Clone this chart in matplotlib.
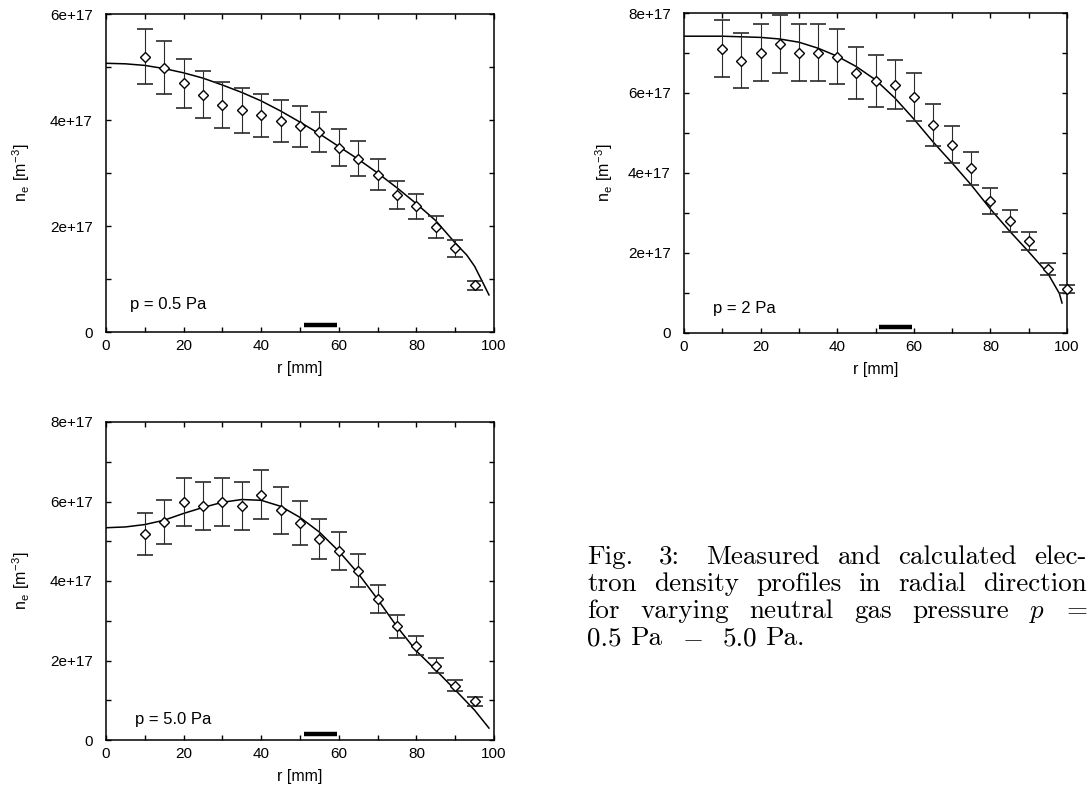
import numpy as np
import matplotlib
matplotlib.use("Agg")
import matplotlib.pyplot as plt
from matplotlib.ticker import MultipleLocator, FuncFormatter

SCALE = 1e17

# ---- panel 1: p = 0.5 Pa ----
r_meas_1 = [10, 15, 20, 25, 30, 35, 40, 45, 50, 55, 60, 65, 70, 75, 80, 85, 90, 95]
ne_meas_1 = [5.19, 4.99, 4.69, 4.48, 4.28, 4.18, 4.09, 3.98, 3.88, 3.78, 3.48, 3.27,
             2.97, 2.58, 2.37, 1.98, 1.58, 0.88]
err_1 = [0.52, 0.50, 0.47, 0.45, 0.43, 0.42, 0.41, 0.40, 0.39, 0.38, 0.35, 0.33,
         0.30, 0.26, 0.24, 0.20, 0.16, 0.09]
r_calc_1 = [0, 5, 10, 15, 20, 25, 30, 35, 40, 45, 50, 55, 60, 65, 70, 75, 80, 85,
            90, 93, 95, 97, 98.7]
ne_calc_1 = [5.07, 5.06, 5.03, 4.97, 4.89, 4.79, 4.66, 4.52, 4.36, 4.17, 3.96, 3.74,
             3.50, 3.26, 3.00, 2.72, 2.42, 2.10, 1.68, 1.45, 1.24, 0.95, 0.70]

# ---- panel 2: p = 2 Pa ----
r_meas_2 = [10, 15, 20, 25, 30, 35, 40, 45, 50, 55, 60, 65, 70, 75, 80, 85, 90, 95, 100]
ne_meas_2 = [7.11, 6.81, 7.01, 7.22, 7.01, 7.01, 6.91, 6.51, 6.30, 6.21, 5.90, 5.20,
             4.71, 4.12, 3.30, 2.80, 2.30, 1.60, 1.10]
err_2 = [0.71, 0.69, 0.71, 0.72, 0.71, 0.71, 0.69, 0.65, 0.64, 0.62, 0.60, 0.52,
         0.47, 0.41, 0.33, 0.28, 0.23, 0.16, 0.11]
r_calc_2 = [0, 10, 20, 25, 30, 35, 40, 45, 50, 55, 60, 65, 70, 75, 80, 85, 90, 95,
            98, 98.7]
ne_calc_2 = [7.42, 7.42, 7.39, 7.35, 7.27, 7.12, 6.92, 6.66, 6.33, 5.88, 5.35, 4.78,
             4.25, 3.70, 3.10, 2.55, 2.03, 1.49, 0.99, 0.75]

# ---- panel 3: p = 5.0 Pa ----
r_meas_3 = [10, 15, 20, 25, 30, 35, 40, 45, 50, 55, 60, 65, 70, 75, 80, 85, 90, 95]
ne_meas_3 = [5.18, 5.48, 5.99, 5.88, 5.98, 5.88, 6.17, 5.78, 5.46, 5.06, 4.76, 4.26,
             3.55, 2.86, 2.37, 1.87, 1.37, 0.97]
err_3 = [0.52, 0.56, 0.60, 0.60, 0.60, 0.60, 0.62, 0.59, 0.56, 0.51, 0.48, 0.42,
         0.36, 0.29, 0.24, 0.19, 0.14, 0.11]
r_calc_3 = [0, 5, 10, 15, 20, 25, 30, 35, 40, 45, 50, 55, 60, 65, 70, 75, 80, 85,
            90, 95, 98.7]
ne_calc_3 = [5.34, 5.36, 5.42, 5.53, 5.70, 5.85, 5.98, 6.05, 6.03, 5.88, 5.60, 5.23,
             4.75, 4.19, 3.54, 2.85, 2.24, 1.76, 1.26, 0.75, 0.30]

# black bar (antenna position) on the r axis
bar_r = [51, 59.5]
bar_ne = [0.13, 0.15, 0.14]

panel_labels = ["p = 0.5 Pa", "p = 2 Pa", "p = 5.0 Pa"]
y_max = [6, 8, 8]

caption_lines = [
    ["Fig.", "3:", "Measured", "and", "calculated", "elec-"],
    ["tron", "density", "profiles", "in", "radial", "direction"],
    ["for", "varying", "neutral", "gas", "pressure", "$p$", "="],
]
caption_last = ["0.5", "Pa", "$-$", "5.0", "Pa."]

plt.rcParams["font.family"] = ["Liberation Sans", "DejaVu Sans"]
plt.rcParams["mathtext.fontset"] = "cm"

W, H = 1089, 790
fig = plt.figure(figsize=(W / 100, H / 100), dpi=100)


def ax_rect(l, t, r, b):
    return [l / W, 1 - b / H, (r - l) / W, (b - t) / H]


rects = [ax_rect(106, 14, 494, 332), ax_rect(684, 13, 1067, 333),
         ax_rect(106, 422, 494, 740)]
meas = [(r_meas_1, ne_meas_1, err_1), (r_meas_2, ne_meas_2, err_2),
        (r_meas_3, ne_meas_3, err_3)]
calc = [(r_calc_1, ne_calc_1), (r_calc_2, ne_calc_2), (r_calc_3, ne_calc_3)]
label_pos = [(0.062, 0.088), (0.076, 0.078), (0.075, 0.066)]
ylabel_x = [-0.19, -0.18, -0.19]


def yfmt(v, pos):
    if abs(v) < 1:
        return "0"
    return "%.0e" % v


for i in range(3):
    ax = fig.add_axes(rects[i])
    r, ne, er = meas[i]
    ne = np.array(ne) * SCALE
    er = np.array(er) * SCALE
    rc, nc = calc[i]
    ax.plot(rc, np.array(nc) * SCALE, color="black", lw=1.1, zorder=2)
    eb = ax.errorbar(r, ne, yerr=er, fmt="none", ecolor="#2a2a2a", elinewidth=0.8,
                     capsize=6, capthick=1.2, zorder=3)
    for art in eb.lines[1]:
        art.set_clip_on(False)
    for art in eb.lines[2]:
        art.set_clip_on(False)
    ax.plot(r, ne, linestyle="none", marker="D", markersize=4.6,
            markerfacecolor="white", markeredgecolor="black", markeredgewidth=1.0,
            zorder=4, clip_on=False)
    ax.plot(bar_r, [bar_ne[i] * SCALE] * 2, color="black", lw=3.2,
            solid_capstyle="butt", zorder=2)
    ax.set_xlim(0, 100)
    ax.set_ylim(0, y_max[i] * SCALE)
    ax.xaxis.set_major_locator(MultipleLocator(20))
    ax.xaxis.set_minor_locator(MultipleLocator(10))
    ax.yaxis.set_major_locator(MultipleLocator(2 * SCALE))
    ax.yaxis.set_minor_locator(MultipleLocator(1 * SCALE))
    ax.yaxis.set_major_formatter(FuncFormatter(yfmt))
    ax.tick_params(which="both", direction="in", top=True, right=True,
                   length=3.5, width=1.0, labelsize=11)
    ax.tick_params(axis="y", which="major", pad=9.5)
    ax.tick_params(axis="x", which="major", pad=5)
    for s in ax.spines.values():
        s.set_linewidth(1.1)
    ax.set_xlabel("r [mm]", fontsize=11.5, labelpad=6)
    ax.set_ylabel(r"n$_\mathregular{e}$ [m$^\mathregular{-3}$]", fontsize=11.5)
    ax.yaxis.set_label_coords(ylabel_x[i], 0.5)
    ax.text(label_pos[i][0], label_pos[i][1], panel_labels[i], transform=ax.transAxes,
            fontsize=12, va="center", ha="left")

# ---- caption (justified) ----
cap_left, cap_right = 587, 1087
line_y = [564, 591, 618, 645]
cap_fs = 19.5
renderer = fig.canvas.get_renderer()
gap_weights = [[1.5, 1.5, 1, 1, 1], [1, 1, 1, 1, 1], [1, 1, 1, 1, 1, 1]]


def place_words(words, y, gaps=None, weights=None):
    ts = [fig.text(0, 1 - y / H, w, fontsize=cap_fs, family="cmr10",
                   va="baseline", ha="left") for w in words]
    widths = [t.get_window_extent(renderer).width for t in ts]
    if gaps is None:
        unit = (cap_right - cap_left - sum(widths)) / sum(weights)
        gaps = [unit * wt for wt in weights]
    x = cap_left
    for k, (t, wdt) in enumerate(zip(ts, widths)):
        t.set_x(x / W)
        if k < len(gaps):
            x += wdt + gaps[k]


for li, words in enumerate(caption_lines):
    place_words(words, line_y[li], weights=gap_weights[li])
place_words(caption_last, line_y[3], gaps=[8, 20, 20, 8])

fig.savefig("out.png", dpi=100)
